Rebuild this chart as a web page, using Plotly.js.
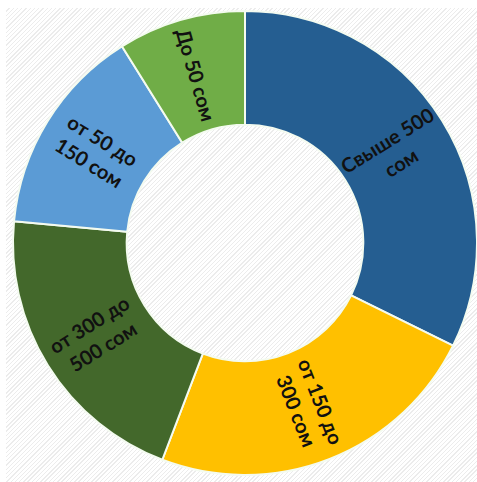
<!DOCTYPE html>
<html>
<head>
<meta charset="utf-8">
<script src="https://cdn.plot.ly/plotly-3.0.1.min.js"></script>
<style>
  html, body { margin:0; padding:0; background:#ffffff; }
  #bg { position:absolute; left:6px; top:8px; width:471px; height:474px;
        background: repeating-linear-gradient(135deg, #ffffff 0px, #ffffff 2px, #ececec 2px, #ececec 3px); }
  #chart { position:absolute; left:0; top:0; width:477px; height:482px; }
</style>
</head>
<body>
<div id="bg"></div>
<div id="chart"></div>
<script>
const categories = ["Свыше 500 сом", "от 150 до 300 сом", "от 300 до 500 сом", "от 50 до 150 сом", "До 50 сом"];
const labelsText = ["Свыше 500<br>сом", "от 150 до<br>300 сом", "от 300 до<br>500 сом", "от 50 до<br>150 сом", "До 50 сом"];
const values = [32.3, 23.5, 20.7, 14.6, 8.9];
const colors = ["#255e91", "#ffc000", "#43682b", "#5b9bd5", "#70ad47"];

const holeFrac = 0.51;

const trace = {
  type: "pie",
  labels: categories,
  values: values,
  textinfo: "none",
  hoverinfo: "label+percent",
  sort: false,
  direction: "clockwise",
  rotation: 0,
  hole: holeFrac,
  marker: { colors: colors, line: { color: "#f4fbf0", width: 2 } }
};

// radial labels placed at the middle of each ring segment, computed from the values
const total = values.reduce((a, b) => a + b, 0);
let cum = 0;
const annotations = values.map((v, i) => {
  const midDeg = (cum + v / 2) / total * 360;
  cum += v;
  const a = midDeg * Math.PI / 180;
  const rMid = 0.5 * (1 + holeFrac) / 2;
  let ang = midDeg - 90;
  if (ang > 90) ang -= 180;
  return {
    xref: "paper", yref: "paper",
    x: 0.5 + rMid * Math.sin(a),
    y: 0.5 + rMid * Math.cos(a),
    text: labelsText[i],
    showarrow: false,
    textangle: ang,
    xanchor: "center", yanchor: "middle",
    font: { family: "Lato, 'Open Sans', sans-serif", size: 20, color: "#111111", weight: "bold" }
  };
});

const layout = {
  width: 477, height: 482,
  margin: { l: 13, r: 0, t: 11, b: 7 },
  paper_bgcolor: "rgba(0,0,0,0)",
  plot_bgcolor: "rgba(0,0,0,0)",
  showlegend: false,
  annotations: annotations
};

Plotly.newPlot("chart", [trace], layout, { displayModeBar: false, staticPlot: true });
</script>
</body>
</html>
